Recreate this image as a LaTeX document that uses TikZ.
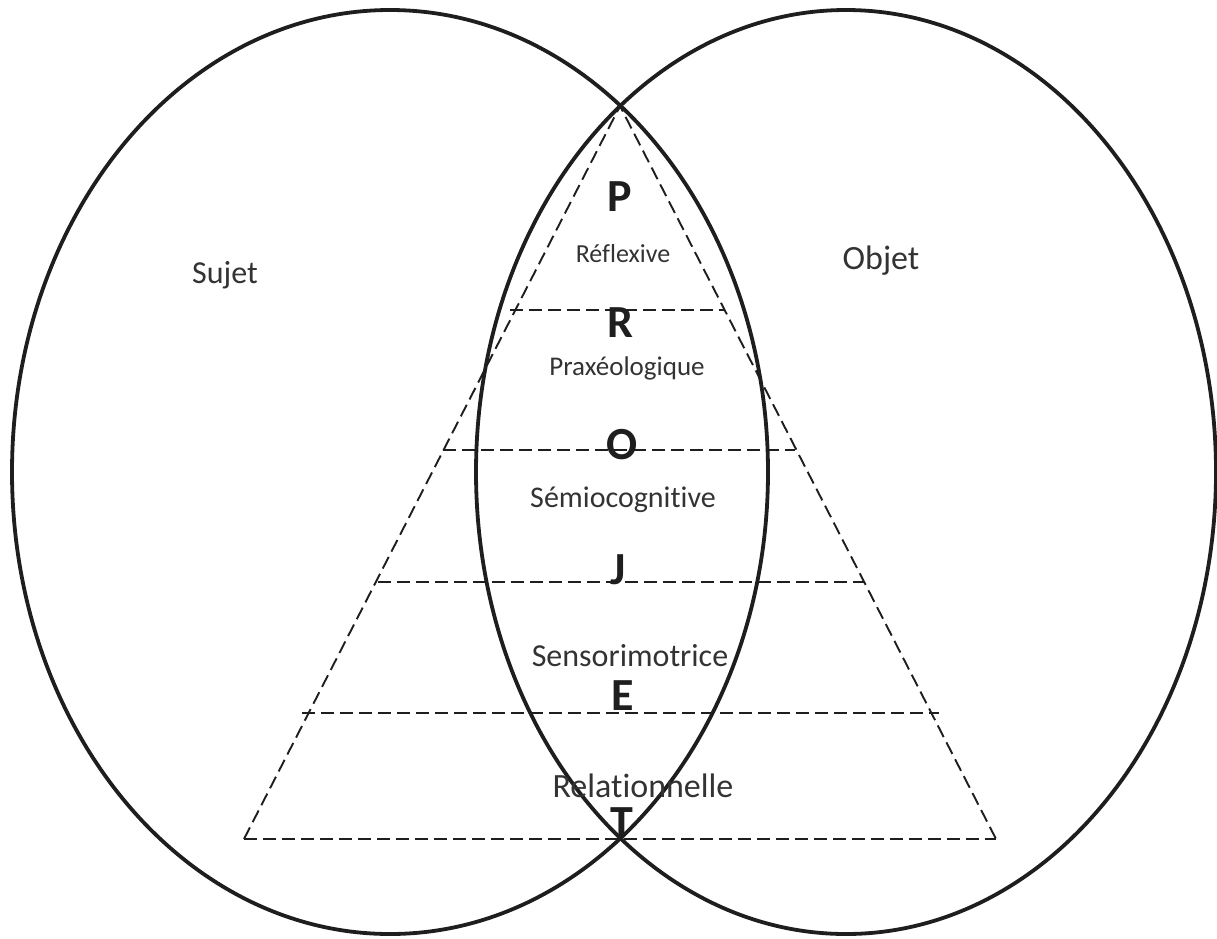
\documentclass[tikz,border=0pt]{standalone}
\usepackage{fontspec}
\setmainfont[Ligatures={NoCommon}]{Carlito}
\definecolor{ink}{HTML}{1E1E1E}
\definecolor{txt}{HTML}{333333}
\tikzset{
  circ/.style={draw=ink, line width=3.8pt},
  dsh/.style={draw=ink, line width=1.9pt, dash pattern=on 13pt off 6pt},
  big/.style={anchor=base, text=ink, inner sep=0pt, font=\fontsize{46}{46}\selectfont\bfseries},
  lab/.style={anchor=base, text=txt, inner sep=0pt},
}
\begin{document}
\begin{tikzpicture}[x=1pt,y=-1pt]
\useasboundingbox (0,0) rectangle (1217,938);
% ellipses
\draw[circ] (390,472) ellipse [x radius=378, y radius=462];
\draw[circ] (846,472) ellipse [x radius=370, y radius=462];
% triangle
\coordinate (apex) at (620,106);
\coordinate (bl) at (244,839);
\coordinate (br) at (996,839);
\draw[dsh] (bl) -- (apex) -- (br);
\coordinate (l1) at (510,310); \coordinate (r1) at (725,310);
\coordinate (l2) at (443,450); \coordinate (r2) at (795,450);
\coordinate (l3) at (378,582); \coordinate (r3) at (865,582);
\coordinate (l4) at (302,713); \coordinate (r4) at (939,713);
\draw[dsh] (l1) -- (r1);
\draw[dsh] (l2) -- (r2);
\draw[dsh] (l3) -- (r3);
\draw[dsh] (l4) -- (r4);
\draw[dsh] (bl) -- (br);
% labels
\node[lab, font=\fontsize{32}{32}\selectfont] (sujet) at (225,283) {Sujet};
\node[lab, font=\fontsize{34}{34}\selectfont] (objet) at (881,269) {Objet};
\node[big] (P) at (620,211) {P};
\node[lab, font=\fontsize{26}{26}\selectfont] (refl) at (623,262) {Réflexive};
\node[big] (R) at (620,337) {R};
\node[lab, font=\fontsize{27}{27}\selectfont] (prax) at (627,375) {Praxéologique};
\node[big] (O) at (622,459) {O};
\node[lab, font=\fontsize{30}{30}\selectfont] (semio) at (623,507) {Sémiocognitive};
\node[big] (J) at (618,584) {J};
\node[lab, font=\fontsize{32}{32}\selectfont] (senso) at (630,666) {Sensorimotrice};
\node[big] (E) at (623,710) {E};
\node[lab, font=\fontsize{34}{34}\selectfont] (rela) at (643,797) {Relationnelle};
\node[big] (T) at (622,837) {T};
\end{tikzpicture}
\end{document}
